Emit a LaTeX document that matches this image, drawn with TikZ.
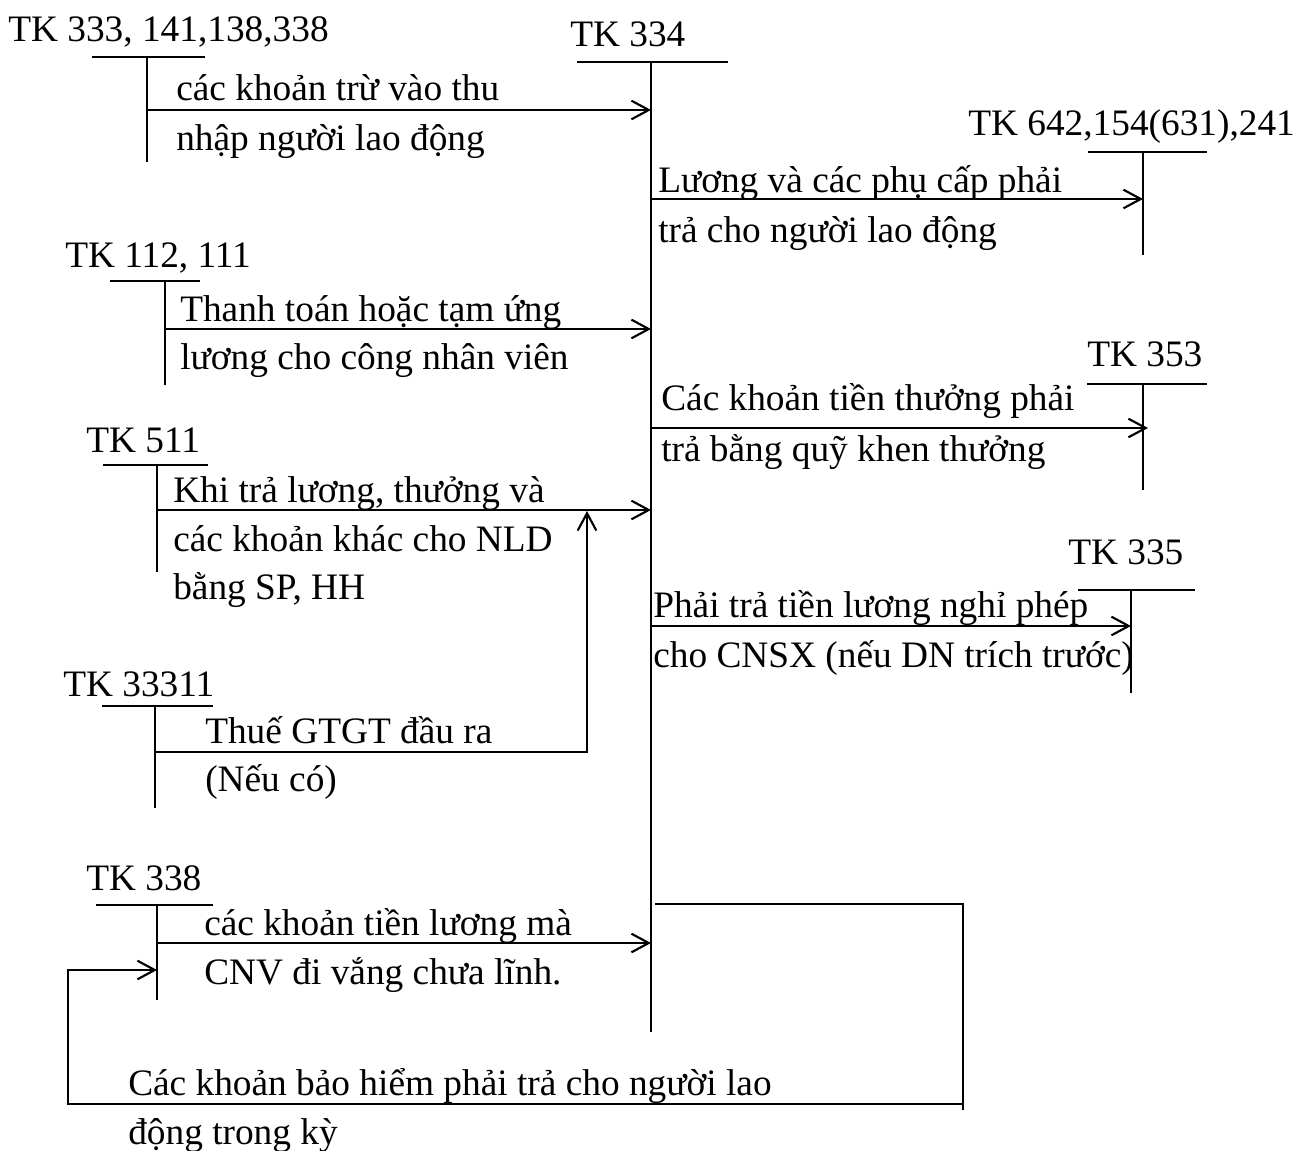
\documentclass[tikz,border=0pt]{standalone}
\usepackage{fontspec}
\setmainfont{Liberation Serif}
\usetikzlibrary{arrows.meta}
\begin{document}
\begin{tikzpicture}[x=0.75pt,y=-0.75pt,
  ln/.style={line width=1.6pt},
  arr/.style={ln,-{Straight Barb[length=13pt,width=14pt,line width=1.6pt]}},
  lbl/.style={anchor=base west,inner sep=0pt,font=\fontsize{28}{33}\selectfont}]
\useasboundingbox (0,0) rectangle (1295,1151);
% T-account titles
\node[lbl] (t333) at (8,42) {TK 333, 141,138,338};
\node[lbl] (t334) at (570,47) {TK 334};
\node[lbl] (t642) at (968,136) {TK 642,154(631),241};
\node[lbl] (t112) at (65,268) {TK 112, 111};
\node[lbl] (t353) at (1087,367) {TK 353};
\node[lbl] (t511) at (86,453) {TK 511};
\node[lbl] (t335) at (1068,564) {TK 335};
\node[lbl] (t33311) at (63,696) {TK 33311};
\node[lbl] (t338) at (86,890) {TK 338};
% T-account coordinates
\coordinate (a333l) at (92,57); \coordinate (a333r) at (205,57);
\coordinate (a333t) at (147,57); \coordinate (a333b) at (147,162);
\coordinate (a334l) at (577,62); \coordinate (a334r) at (728,62);
\coordinate (a334t) at (651,62); \coordinate (a334b) at (651,1032);
\coordinate (a642l) at (1088,152); \coordinate (a642r) at (1207,152);
\coordinate (a642t) at (1143,152); \coordinate (a642b) at (1143,255);
\coordinate (a112l) at (110,281); \coordinate (a112r) at (200,281);
\coordinate (a112t) at (165,281); \coordinate (a112b) at (165,385);
\coordinate (a353l) at (1087,384); \coordinate (a353r) at (1207,384);
\coordinate (a353t) at (1143,384); \coordinate (a353b) at (1143,490);
\coordinate (a511l) at (103,465); \coordinate (a511r) at (208,465);
\coordinate (a511t) at (157,465); \coordinate (a511b) at (157,572);
\coordinate (a335l) at (1078,590); \coordinate (a335r) at (1195,590);
\coordinate (a335t) at (1131,590); \coordinate (a335b) at (1131,693);
\coordinate (a3331l) at (102,706); \coordinate (a3331r) at (213,706);
\coordinate (a3331t) at (155,706); \coordinate (a3331b) at (155,808);
\coordinate (a338l) at (96,905); \coordinate (a338r) at (213,905);
\coordinate (a338t) at (157,905); \coordinate (a338b) at (157,1000);
\foreach \n in {333,334,642,112,353,511,335,3331,338}{
  \draw[ln] (a\n l) -- (a\n r);
  \draw[ln] (a\n t) -- (a\n b);
}
% arrow endpoints
\coordinate (s1) at (147,110); \coordinate (e1) at (651,110);
\coordinate (s2) at (651,199); \coordinate (e2) at (1143,199);
\coordinate (s3) at (165,329); \coordinate (e3) at (651,329);
\coordinate (s4) at (651,428); \coordinate (e4) at (1148,428);
\coordinate (s5) at (157,510); \coordinate (e5) at (651,510);
\coordinate (s6) at (651,626); \coordinate (e6) at (1131,626);
\coordinate (s7) at (155,752); \coordinate (k7) at (587,752); \coordinate (e7) at (587,511);
\coordinate (s8) at (157,943); \coordinate (e8) at (651,943);
\coordinate (s9) at (655,904); \coordinate (k9a) at (963,904); \coordinate (k9b) at (963,1110);
\coordinate (k9c) at (963,1104); \coordinate (k9d) at (68,1104); \coordinate (k9e) at (68,970); \coordinate (e9) at (157,970);
\draw[arr] (s1) -- (e1);
\draw[arr] (s2) -- (e2);
\draw[arr] (s3) -- (e3);
\draw[arr] (s4) -- (e4);
\draw[arr] (s5) -- (e5);
\draw[arr] (s6) -- (e6);
\draw[arr] (s7) -- (k7) -- (e7);
\draw[arr] (s8) -- (e8);
\draw[ln] (s9) -- (k9a) -- (k9b);
\draw[arr] (k9c) -- (k9d) -- (k9e) -- (e9);
% labels
\node[lbl] (l1a) at (176,101) {các khoản trừ vào thu};
\node[lbl] (l1b) at (176,151) {nhập người lao động};
\node[lbl] (l2a) at (658,193) {Lương và các phụ cấp phải};
\node[lbl] (l2b) at (658,243) {trả cho người lao động};
\node[lbl] (l3a) at (180,322) {Thanh toán hoặc tạm ứng};
\node[lbl] (l3b) at (180,370) {lương cho công nhân viên};
\node[lbl] (l4a) at (661,411) {Các khoản tiền thưởng phải};
\node[lbl] (l4b) at (661,461) {trả bằng quỹ khen thưởng};
\node[lbl] (l5a) at (173,502) {Khi trả lương, thưởng và};
\node[lbl] (l5b) at (173,551) {các khoản khác cho NLD};
\node[lbl] (l5c) at (173,599) {bằng SP, HH};
\node[lbl] (l6a) at (653,617) {Phải trả tiền lương nghỉ phép};
\node[lbl] (l6b) at (653,667) {cho CNSX (nếu DN trích trước)};
\node[lbl] (l7a) at (205,743) {Thuế GTGT đầu ra};
\node[lbl] (l7b) at (205,791) {(Nếu có)};
\node[lbl] (l8a) at (204,935) {các khoản tiền lương mà};
\node[lbl] (l8b) at (204,984) {CNV đi vắng chưa lĩnh.};
\node[lbl] (l9a) at (128,1095) {Các khoản bảo hiểm phải trả cho người lao};
\node[lbl] (l9b) at (128,1144) {động trong kỳ};
\end{tikzpicture}
\end{document}
